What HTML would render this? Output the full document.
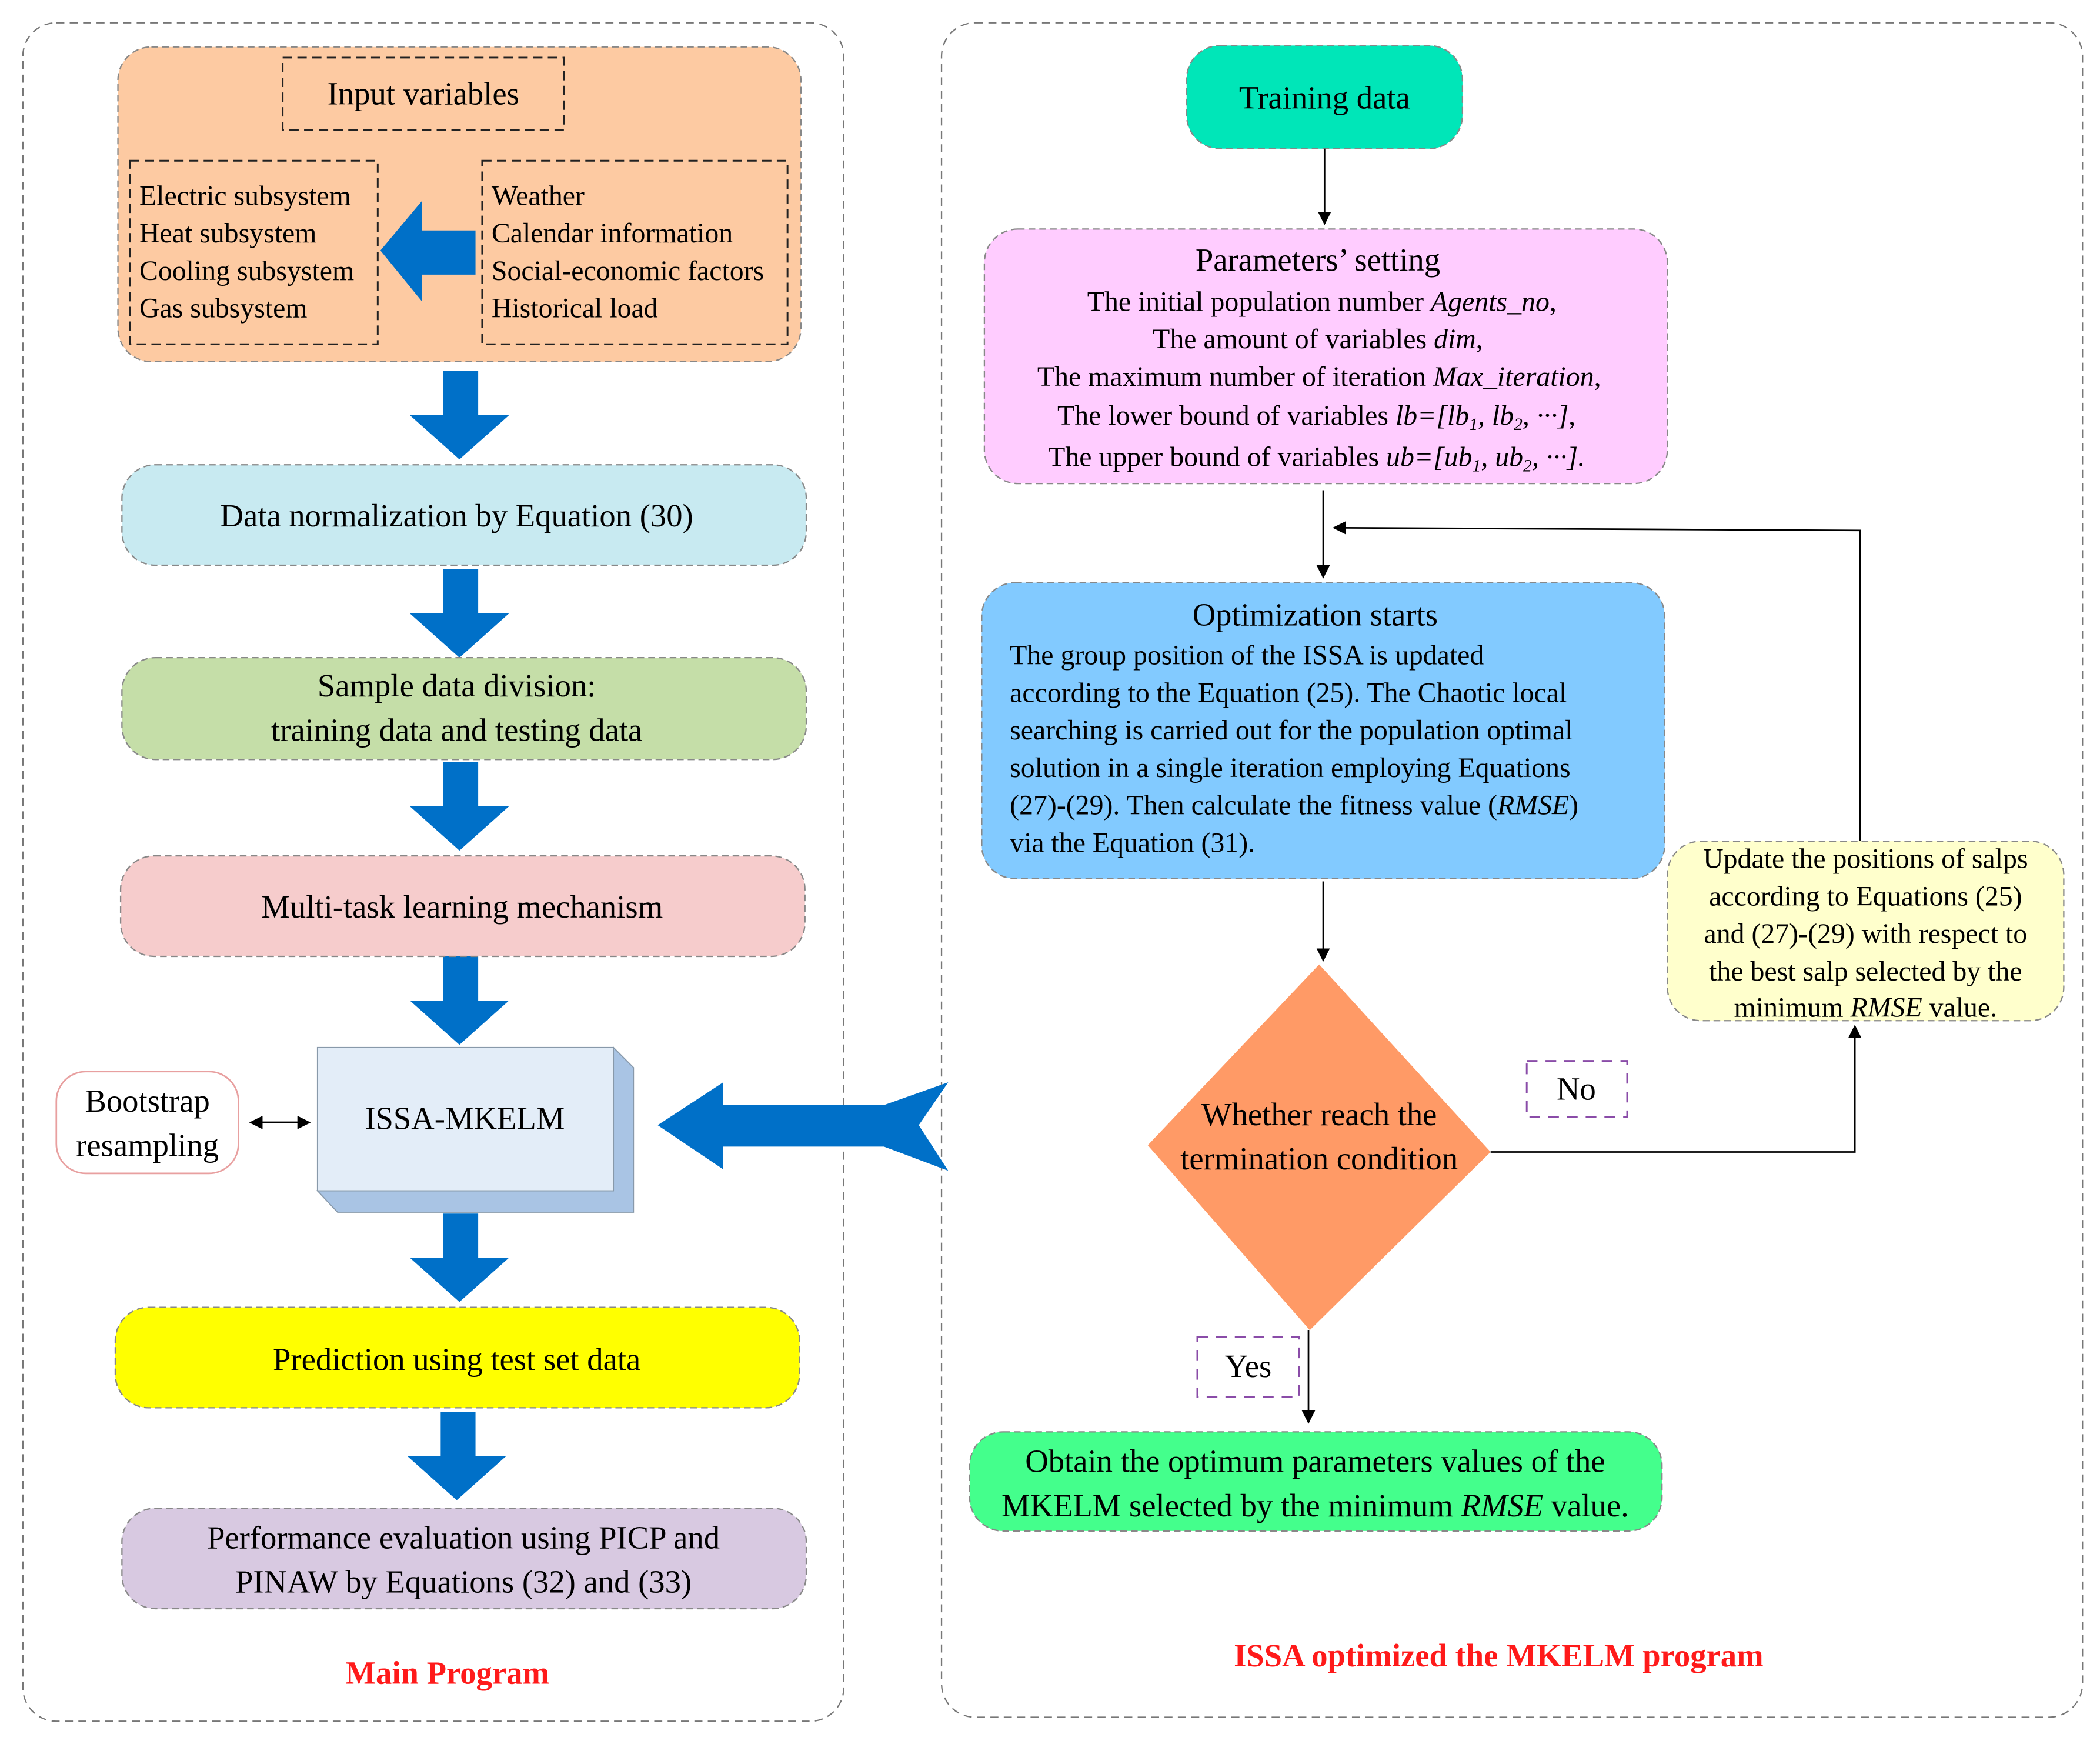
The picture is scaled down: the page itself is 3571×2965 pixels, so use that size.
<!DOCTYPE html>
<html><head><meta charset="utf-8"><style>html,body{margin:0;padding:0;background:#fff}svg{display:block}svg text{font-family:"Liberation Serif","Times New Roman",serif}</style></head>
<body>
<svg xmlns="http://www.w3.org/2000/svg" width="3571" height="2965" viewBox="0 0 1568 1302" font-family="'Liberation Serif', serif" fill="#000">
<defs>
<marker id="ah" markerWidth="10" markerHeight="10" refX="9" refY="5" orient="auto" markerUnits="userSpaceOnUse"><path d="M0,0 L10,5 L0,10 Z" fill="#000"/></marker>
<marker id="ah2" markerWidth="10" markerHeight="10" refX="1" refY="5" orient="auto" markerUnits="userSpaceOnUse"><path d="M10,0 L0,5 L10,10 Z" fill="#000"/></marker>
</defs>
<g fill="none" stroke="#777" stroke-width="1" stroke-dasharray="6,4">
<rect x="17" y="17" width="613" height="1268" rx="25"/>
<rect x="703" y="17" width="852" height="1265" rx="25"/>
</g>
<rect x="88" y="35" width="510" height="235" rx="25" fill="#FDCAA2" stroke="#888" stroke-dasharray="5,3"/>
<g fill="none" stroke="#222" stroke-width="1.3" stroke-dasharray="7,4">
<rect x="211" y="43" width="210" height="54"/>
<rect x="97" y="120" width="185" height="137"/>
<rect x="360" y="120" width="228" height="137"/>
</g>
<text x="316" y="78" font-size="24" text-anchor="middle">Input variables</text>
<g font-size="21">
<text x="104" y="153">Electric subsystem</text>
<text x="104" y="181">Heat subsystem</text>
<text x="104" y="209">Cooling subsystem</text>
<text x="104" y="237">Gas subsystem</text>
<text x="367" y="153">Weather</text>
<text x="367" y="181">Calendar information</text>
<text x="367" y="209">Social-economic factors</text>
<text x="367" y="237">Historical load</text>
</g>
<path d="M284,187 L315,150 L315,172 L355,172 L355,205 L315,205 L315,225 Z" fill="#0070C8"/>
<g fill="#0070C8">
<path d="M331,277 h26 v33 h23 l-37,33 l-37,-33 h25 Z"/>
<path d="M331,425 h26 v33 h23 l-37,33 l-37,-33 h25 Z"/>
<path d="M331,569 h26 v33 h23 l-37,33 l-37,-33 h25 Z"/>
<path d="M331,714 h26 v33 h23 l-37,33 l-37,-33 h25 Z"/>
<path d="M331,906 h26 v33 h23 l-37,33 l-37,-33 h25 Z"/>
<path d="M329,1054 h26 v33 h23 l-37,33 l-37,-33 h25 Z"/>
<path d="M491,840 L540,808 L540,825 L660,825 L708,808 L686,840 L708,874 L660,856 L540,856 L540,873 Z"/>
</g>
<rect x="91" y="347" width="511" height="75" rx="25" fill="#C8EAF1" stroke="#888" stroke-dasharray="5,3"/>
<text x="341" y="393" font-size="24" text-anchor="middle">Data normalization by Equation (30)</text>
<rect x="91" y="491" width="511" height="76" rx="25" fill="#C5DEA8" stroke="#888" stroke-dasharray="5,3"/>
<text x="341" y="520" font-size="24" text-anchor="middle">Sample data division:</text>
<text x="341" y="553" font-size="24" text-anchor="middle">training data and testing data</text>
<rect x="90" y="639" width="511" height="75" rx="25" fill="#F6CCCC" stroke="#888" stroke-dasharray="5,3"/>
<text x="345" y="685" font-size="24" text-anchor="middle">Multi-task learning mechanism</text>
<path d="M458,782 L473,797 L473,905 L252,905 L237,889 L458,889 Z" fill="#A9C4E4" stroke="#8899aa" stroke-width="0.8"/>
<rect x="237" y="782" width="221" height="107" fill="#E3EDF8" stroke="#8899aa" stroke-width="0.8"/>
<text x="347" y="843" font-size="24" text-anchor="middle">ISSA-MKELM</text>
<rect x="42" y="800" width="136" height="76" rx="22" fill="#fff" stroke="#E8A0A0" stroke-width="1.2"/>
<text x="110" y="830" font-size="24" text-anchor="middle">Bootstrap</text>
<text x="110" y="863" font-size="24" text-anchor="middle">resampling</text>
<line x1="187" y1="838" x2="231" y2="838" stroke="#000" stroke-width="1.5" marker-start="url(#ah2)" marker-end="url(#ah)"/>
<rect x="86" y="976" width="511" height="75" rx="25" fill="#FFFF00" stroke="#888" stroke-dasharray="5,3"/>
<text x="341" y="1023" font-size="24" text-anchor="middle">Prediction using test set data</text>
<rect x="91" y="1126" width="511" height="75" rx="25" fill="#D8C9E1" stroke="#888" stroke-dasharray="5,3"/>
<text x="346" y="1156" font-size="24" text-anchor="middle">Performance evaluation using PICP and</text>
<text x="346" y="1189" font-size="24" text-anchor="middle">PINAW by Equations (32) and (33)</text>
<text x="334" y="1257" font-size="24" font-weight="bold" fill="#FF1A1A" text-anchor="middle">Main Program</text>
<rect x="886" y="34" width="206" height="77" rx="25" fill="#00E6B8" stroke="#888" stroke-dasharray="5,3"/>
<text x="989" y="81" font-size="24" text-anchor="middle">Training data</text>
<line x1="989" y1="111" x2="989" y2="167" stroke="#000" stroke-width="1.2" marker-end="url(#ah)"/>
<rect x="735" y="171" width="510" height="190" rx="25" fill="#FFCCFF" stroke="#888" stroke-dasharray="5,3"/>
<g font-size="21" text-anchor="middle">
<text x="984" y="202" font-size="24">Parameters’ setting</text>
<text x="987" y="232">The initial population number <tspan font-style="italic">Agents_no</tspan>,</text>
<text x="984" y="260">The amount of variables <tspan font-style="italic">dim</tspan>,</text>
<text x="985" y="288">The maximum number of iteration <tspan font-style="italic">Max_iteration</tspan>,</text>
<text x="983" y="317">The lower bound of variables <tspan font-style="italic">lb=[lb<tspan font-size="13" dy="4">1</tspan><tspan dy="-4">, lb</tspan><tspan font-size="13" dy="4">2</tspan><tspan dy="-4">, ···]</tspan></tspan>,</text>
<text x="983" y="348">The upper bound of variables  <tspan font-style="italic">ub=[ub<tspan font-size="13" dy="4">1</tspan><tspan dy="-4">, ub</tspan><tspan font-size="13" dy="4">2</tspan><tspan dy="-4">, ···].</tspan></tspan></text>
</g>
<line x1="988" y1="366" x2="988" y2="431" stroke="#000" stroke-width="1.2" marker-end="url(#ah)"/>
<polyline points="1389,628 1389,396 996,394" fill="none" stroke="#000" stroke-width="1.2" marker-end="url(#ah)"/>
<rect x="733" y="435" width="510" height="221" rx="25" fill="#82CAFF" stroke="#888" stroke-dasharray="5,3"/>
<text x="982" y="467" font-size="24" text-anchor="middle">Optimization starts</text>
<g font-size="21">
<text x="754" y="496">The group position of the ISSA is updated</text>
<text x="754" y="524">according to the Equation (25). The Chaotic local</text>
<text x="754" y="552">searching is carried out for the population optimal</text>
<text x="754" y="580">solution in a single iteration employing Equations</text>
<text x="754" y="608">(27)-(29). Then calculate the fitness value (<tspan font-style="italic">RMSE</tspan>)</text>
<text x="754" y="636">via the Equation (31).</text>
</g>
<line x1="988" y1="658" x2="988" y2="717" stroke="#000" stroke-width="1.2" marker-end="url(#ah)"/>
<path d="M985,720 L1113,860 L978,993 L857,855 Z" fill="#FF9A66"/>
<text x="985" y="840" font-size="24" text-anchor="middle">Whether reach the</text>
<text x="985" y="873" font-size="24" text-anchor="middle">termination condition</text>
<polyline points="1113,860 1385,860 1385,766" fill="none" stroke="#000" stroke-width="1.2" marker-end="url(#ah)"/>
<rect x="1245" y="628" width="296" height="134" rx="25" fill="#FFFFCC" stroke="#888" stroke-dasharray="5,3"/>
<g font-size="21" text-anchor="middle">
<text x="1393" y="648">Update the positions of salps</text>
<text x="1393" y="676">according to Equations (25)</text>
<text x="1393" y="704">and (27)-(29) with respect to</text>
<text x="1393" y="732">the best salp selected by the</text>
<text x="1393" y="759">minimum <tspan font-style="italic">RMSE</tspan> value.</text>
</g>
<g fill="none" stroke="#8a4ca8" stroke-width="1.3" stroke-dasharray="8,6">
<rect x="1140" y="792" width="75" height="42"/>
<rect x="894" y="998" width="76" height="45"/>
</g>
<text x="1177" y="821" font-size="24" text-anchor="middle">No</text>
<text x="932" y="1028" font-size="24" text-anchor="middle">Yes</text>
<line x1="977" y1="993" x2="977" y2="1062" stroke="#000" stroke-width="1.2" marker-end="url(#ah)"/>
<rect x="724" y="1069" width="517" height="74" rx="25" fill="#44FF8C" stroke="#888" stroke-dasharray="5,3"/>
<text x="982" y="1099" font-size="24" text-anchor="middle">Obtain the optimum parameters values of the</text>
<text x="982" y="1132" font-size="24" text-anchor="middle">MKELM selected by the minimum <tspan font-style="italic">RMSE</tspan> value.</text>
<text x="1119" y="1244" font-size="24" font-weight="bold" fill="#FF1A1A" text-anchor="middle">ISSA optimized the MKELM program</text>
</svg>
</body></html>
